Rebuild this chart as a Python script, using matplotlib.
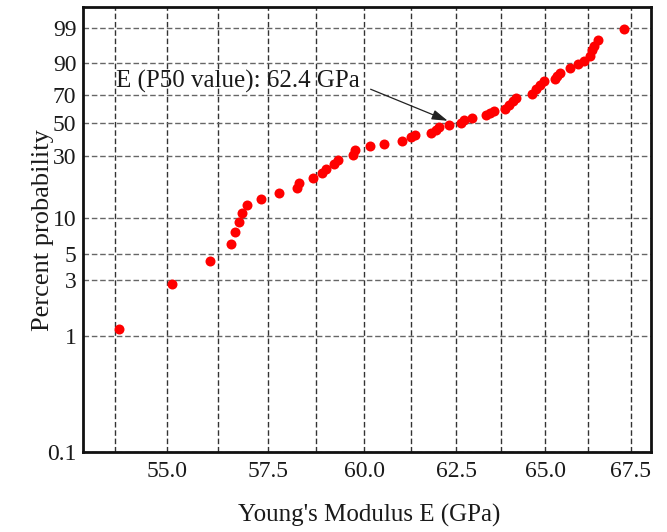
import numpy as np
import matplotlib
matplotlib.use("Agg")
import matplotlib.pyplot as plt
from matplotlib.ticker import FixedLocator, FixedFormatter, NullFormatter

# Young's modulus of each specimen (GPa), sorted
modulus_gpa = [
    53.85, 55.11, 56.06, 56.58, 56.68, 56.78, 56.84, 56.98, 57.33, 57.79,
    58.26, 58.29, 58.66, 58.89, 59.01, 59.21, 59.30, 59.72, 59.77, 60.16,
    60.54, 61.02, 61.27, 61.37, 61.81, 61.93, 62.02, 62.30, 62.62, 62.70,
    62.92, 63.31, 63.43, 63.55, 63.85, 63.97, 64.07, 64.16, 64.63, 64.74,
    64.85, 64.95, 65.28, 65.35, 65.43, 65.71, 65.94, 66.12, 66.31, 66.36,
    66.41, 66.52, 67.30,
]

# Cumulative percent probability of each specimen
percent_prob = [
    1.14, 2.77, 4.37, 6.07, 7.55, 9.21, 10.91, 12.58, 14.16, 15.81,
    17.41, 18.88, 20.63, 22.54, 24.16, 26.32, 28.40, 30.61, 33.22, 35.70,
    36.84, 38.60, 40.73, 42.29, 43.24, 45.52, 47.05, 48.88, 50.05, 51.99,
    53.55, 55.54, 57.13, 58.58, 60.04, 62.83, 65.38, 68.08, 70.82, 74.22,
    76.96, 79.60, 81.01, 82.73, 84.32, 87.09, 89.35, 90.81, 92.84, 94.66,
    95.89, 97.20, 98.91,
]

p50_value = 62.4

x_major = [55.0, 57.5, 60.0, 62.5, 65.0, 67.5]
x_minor = [53.75, 56.25, 58.75, 61.25, 63.75, 66.25]
y_ticks = [0.1, 1, 3, 5, 10, 30, 50, 70, 90, 99]
y_labels = ["0.1", "1", "3", "5", "10", "30", "50", "70", "90", "99"]

plt.rcParams["font.family"] = ["Liberation Serif", "DejaVu Serif"]


def weibull_fwd(p):
    q = np.clip(np.asarray(p, dtype=float), 1e-9, 100 - 1e-9) / 100.0
    return np.log(-np.log1p(-q))


def weibull_inv(w):
    return 100.0 * (1.0 - np.exp(-np.exp(np.asarray(w, dtype=float))))


fig = plt.figure(figsize=(6.67, 5.32), dpi=100)
W, H = 667, 532
left, right, top, bottom = 83.3, 650.7, 7.3, 451.7
ax = fig.add_axes([left / W, 1 - bottom / H, (right - left) / W, (bottom - top) / H])

ax.set_xscale("log")
ax.set_yscale("function", functions=(weibull_fwd, weibull_inv))
ax.set_xlim(53.0, 68.1)
ax.set_ylim(0.1, 99.9)

ax.xaxis.set_major_locator(FixedLocator(x_major))
ax.xaxis.set_major_formatter(FixedFormatter([f"{v:.1f}" for v in x_major]))
ax.xaxis.set_minor_locator(FixedLocator(x_minor))
ax.xaxis.set_minor_formatter(NullFormatter())
ax.yaxis.set_major_locator(FixedLocator(y_ticks))
ax.yaxis.set_major_formatter(FixedFormatter(y_labels))
ax.yaxis.set_minor_locator(FixedLocator([]))

ax.tick_params(axis="both", which="both", length=0, labelsize=17, colors="#1a1a1a")
ax.tick_params(axis="x", pad=7)
ax.tick_params(axis="y", pad=5)

dash = (0, (4, 2))
ax.xaxis.grid(True, which="both", color="#333333", linestyle=dash, linewidth=1.0)
ax.yaxis.grid(True, which="major", color="#666666", linestyle=dash, linewidth=1.0)
ax.set_axisbelow(True)

for s in ax.spines.values():
    s.set_linewidth(2.0)
    s.set_color("#111111")

ax.plot(modulus_gpa, percent_prob, "o", color="#ff0000", markersize=7.2,
        markeredgewidth=0, zorder=3)

ax.annotate(
    f"E (P50 value): {p50_value} GPa",
    xy=(p50_value, 50), xytext=(53.78, 79.4), textcoords="data",
    ha="left", va="center", fontsize=18, color="#1a1a1a",
    arrowprops=dict(arrowstyle="-|>,head_length=0.8,head_width=0.25",
                    mutation_scale=12, color="#222222", lw=0.9,
                    relpos=(1.0, 0.35), shrinkA=6, shrinkB=4),
)

fig.text(43 / W, 1 - 230 / H, "Percent probability", rotation=90,
         ha="center", va="center", fontsize=19, color="#1a1a1a")
fig.text(369 / W, 1 - 515 / H, "Young's Modulus E (GPa)",
         ha="center", va="center", fontsize=18, color="#1a1a1a")

fig.savefig("out.png", dpi=100)
